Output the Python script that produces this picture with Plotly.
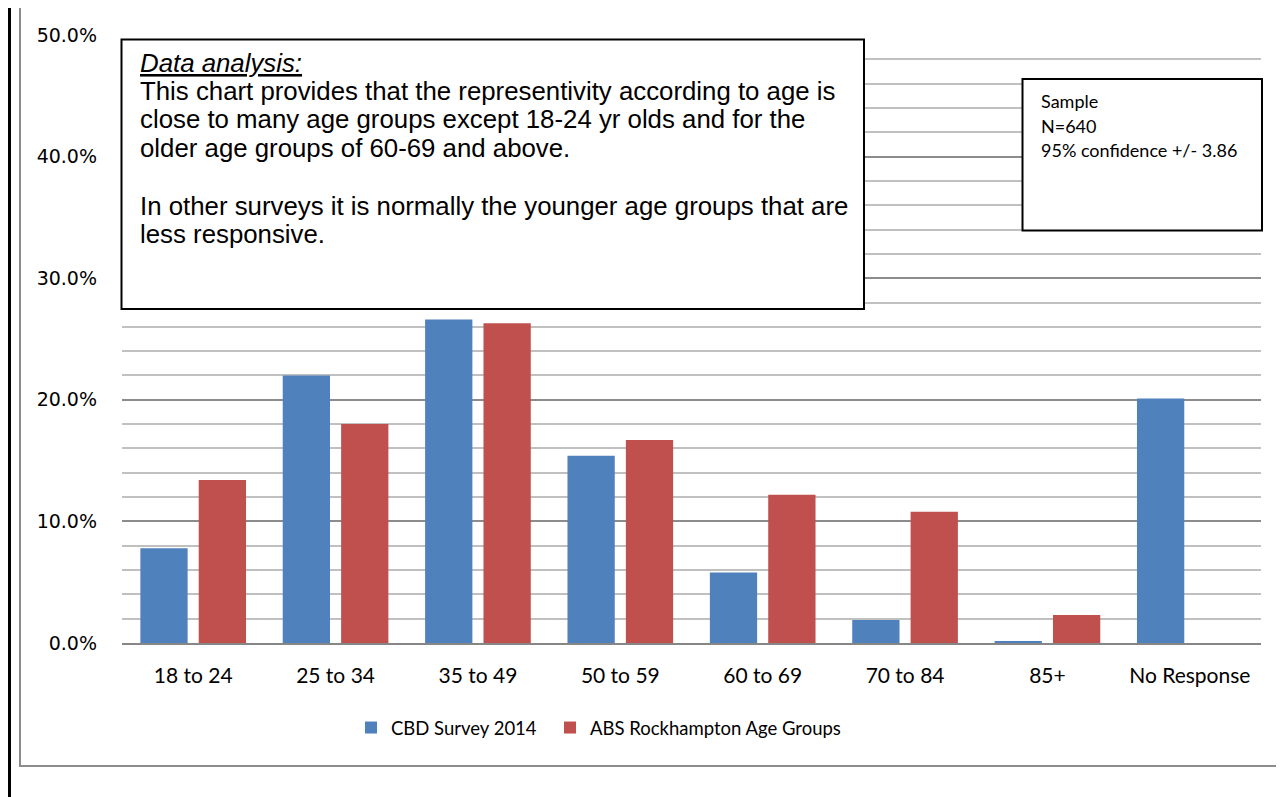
import plotly.graph_objects as go

categories = ["18 to 24", "25 to 34", "35 to 49", "50 to 59", "60 to 69", "70 to 84", "85+", "No Response"]
cbd_survey_2014 = [7.8, 22.0, 26.6, 15.4, 5.8, 1.9, 0.16, 20.1]
abs_rockhampton = [13.4, 18.0, 26.3, 16.7, 12.2, 10.8, 2.3, 0.0]
series_names = ["CBD Survey 2014", "ABS Rockhampton Age Groups"]
y_ticks = [0, 10, 20, 30, 40, 50]
y_tick_labels = ["0.0%", "10.0%", "20.0%", "30.0%", "40.0%", "50.0%"]

analysis_title = "Data analysis:"
analysis_lines = [
    "This chart provides that the representivity according to age is",
    "close to many age groups except 18-24 yr olds and for the",
    "older age groups of 60-69 and above.",
    "",
    "In other surveys it is normally the younger age groups that are",
    "less responsive.",
]
sample_lines = ["Sample", "N=640", "95% confidence +/- 3.86"]

# page has an 8px body margin: figure is drawn at (8, 8)
OFF = 8
W, H = 1284 - OFF, 797 - OFF
L, R, T, B = 122, 1261, 35, 643  # plot area in page pixels


def px(x):
    return (x - L) / (R - L)


def py(y):
    return (B - y) / (B - T)


BLUE = "#4F81BD"
RED = "#C0504D"
CAL = "Lato, 'Open Sans', sans-serif"
ARIAL = "Liberation Sans, Arial, sans-serif"

fig = go.Figure()
fig.add_trace(go.Bar(x=categories, y=cbd_survey_2014, name=series_names[0], legend="legend",
                     marker=dict(color=BLUE, line=dict(width=0))))
fig.add_trace(go.Bar(x=categories, y=abs_rockhampton, name=series_names[1], legend="legend2",
                     marker=dict(color=RED, line=dict(width=0))))

shapes = [
    # outer chart border (gray)
    dict(type="rect", xref="paper", yref="paper", x0=px(20), x1=px(1300), y0=py(766), y1=py(6),
         line=dict(color="#8C8C8C", width=2), fillcolor="rgba(0,0,0,0)", layer="below"),
    # page black border (as close to the left edge as the figure allows)
    dict(type="line", xref="paper", yref="paper", x0=px(9.5), x1=px(9.5), y0=py(7), y1=py(800),
         line=dict(color="black", width=3)),
    dict(type="line", xref="paper", yref="paper", x0=px(8), x1=px(20), y0=py(7), y1=py(7),
         line=dict(color="black", width=2)),
    # analysis box
    dict(type="rect", xref="paper", yref="paper", x0=px(121.5), x1=px(864), y0=py(309), y1=py(39.5),
         line=dict(color="black", width=2), fillcolor="white", layer="above"),
    # sample box
    dict(type="rect", xref="paper", yref="paper", x0=px(1022.5), x1=px(1262), y0=py(230.5), y1=py(79),
         line=dict(color="black", width=2), fillcolor="white", layer="above"),
]

annotations = []
annotations.append(dict(xref="paper", yref="paper", x=px(138), y=py(63), xanchor="left", yanchor="middle",
                        text="<i><u>" + analysis_title + "</u></i>", showarrow=False,
                        font=dict(family=ARIAL, size=25.8, color="black")))
centers = [91, 119, 148, 177, 206, 234]
for line, cy in zip(analysis_lines, centers):
    if not line:
        continue
    annotations.append(dict(xref="paper", yref="paper", x=px(138), y=py(cy), xanchor="left", yanchor="middle",
                            text=line, showarrow=False,
                            font=dict(family=ARIAL, size=25.8, color="black")))
for line, cy in zip(sample_lines, [101, 126, 150]):
    annotations.append(dict(xref="paper", yref="paper", x=px(1039), y=py(cy), xanchor="left", yanchor="middle",
                            text=line, showarrow=False,
                            font=dict(family=CAL, size=18, color="black")))

legend_font = dict(family=CAL, size=18.5, color="black")
fig.update_layout(
    width=W, height=H, autosize=False,
    margin=dict(l=L - OFF, r=W - (R - OFF), t=T - OFF, b=H - (B - OFF)),
    paper_bgcolor="white", plot_bgcolor="white",
    barmode="group", bargap=0.18, bargroupgap=0.19,
    showlegend=True,
    legend=dict(orientation="h", x=px(351), xanchor="left", y=py(728), yanchor="middle",
                font=legend_font, bgcolor="rgba(0,0,0,0)"),
    legend2=dict(orientation="h", x=px(550), xanchor="left", y=py(728), yanchor="middle",
                 font=legend_font, bgcolor="rgba(0,0,0,0)"),
    shapes=shapes, annotations=annotations,
    xaxis=dict(showgrid=False, showline=True, linecolor="#868686", linewidth=2,
               tickfont=dict(family=CAL, size=21, color="black"), ticks="",
               ticklabelstandoff=13, fixedrange=True),
    yaxis=dict(range=[0, 50], tickvals=y_ticks, ticktext=y_tick_labels,
               showgrid=True, gridcolor="#8C8C8C", gridwidth=2,
               minor=dict(dtick=2, showgrid=True, gridcolor="#C0C0C0", gridwidth=2, ticks=""),
               zeroline=False, showline=False, ticks="",
               tickfont=dict(family="DejaVu Sans", size=19, color="black"),
               ticklabelstandoff=24, fixedrange=True),
)

fig.write_html("out.html")
